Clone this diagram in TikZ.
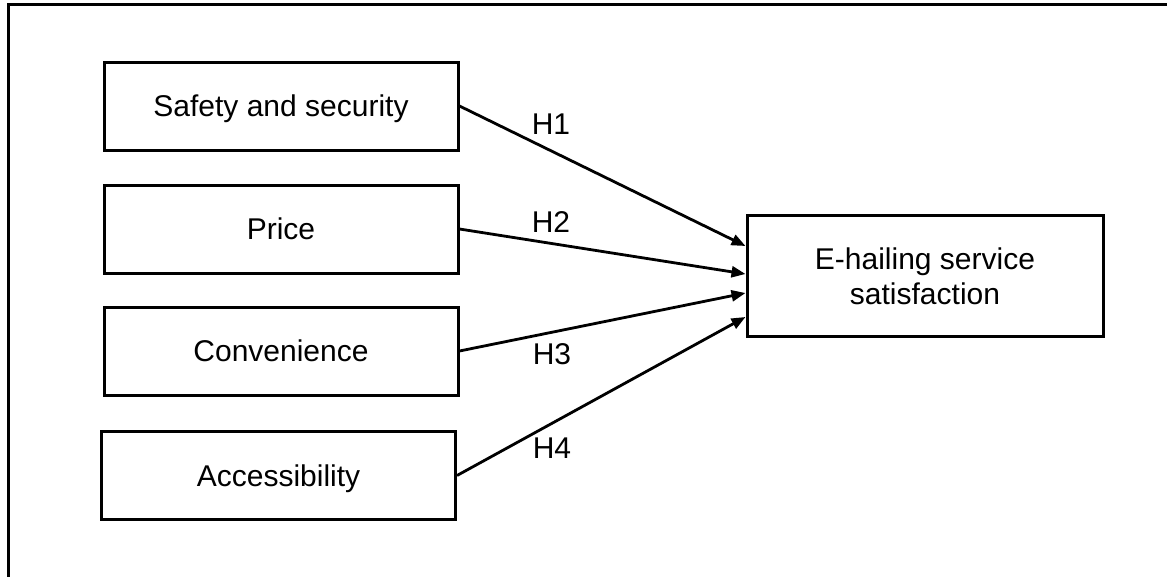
\documentclass[tikz,border=0pt]{standalone}
\usepackage{fontspec}
\setmainfont{Liberation Sans}
\usetikzlibrary{arrows.meta}
\begin{document}
\begin{tikzpicture}[x=1pt,y=-1pt,
  box/.style={draw,line width=3pt,minimum width=354pt,minimum height=88pt,inner sep=0pt,
    font=\fontsize{30}{35}\selectfont,text height=21.5pt,text depth=0pt},
  hyp/.style={inner sep=0pt,font=\fontsize{30}{35}\selectfont},
  link/.style={line width=2.8pt,-{Triangle[length=14pt,width=11pt]}}]
\useasboundingbox (0,0) rectangle (1167,576);
\begin{scope}
\clip (0,0) rectangle (1167,576);
\draw[line width=3pt] (1180,4) -- (8,4) -- (8,590);
\end{scope}
\node[box] (s) at (281,106) {Safety and security};
\node[box] (p) at (281,229) {Price};
\node[box] (c) at (281,351) {Convenience};
\node[box] (a) at (278.5,475.5) {Accessibility};
\node[draw,line width=3pt,minimum width=356pt,minimum height=121pt,inner sep=0pt] (t) at (925,275.5) {};
\node[inner sep=0pt,align=center,font=\fontsize{30}{35}\selectfont] (tt) at (925,276) {E-hailing service\\satisfaction};
\draw[link] (s.east) -- ([yshift=29.5pt]t.west);
\draw[link] (p.east) -- ([yshift=1.5pt]t.west);
\draw[link] (c.east) -- ([yshift=-17.5pt]t.west);
\draw[link] (a.east) -- ([yshift=-41.5pt]t.west);
\node[hyp] (h1) at (551,124) {H1};
\node[hyp] (h2) at (551,222.5) {H2};
\node[hyp] (h3) at (552,354) {H3};
\node[hyp] (h4) at (552,448) {H4};
\end{tikzpicture}
\end{document}
